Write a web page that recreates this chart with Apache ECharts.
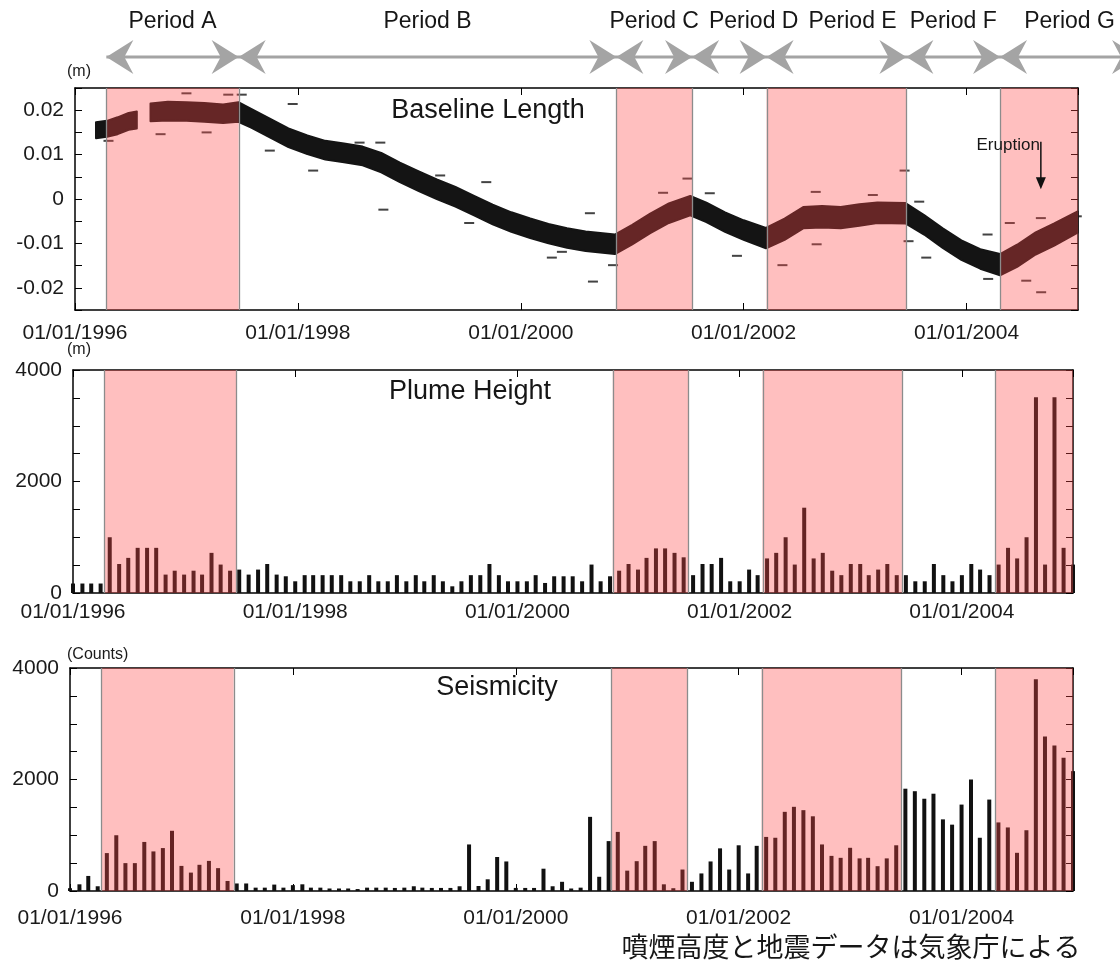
<!DOCTYPE html>
<html>
<head>
<meta charset="utf-8">
<script src="https://cdn.jsdelivr.net/npm/echarts@6/dist/echarts.min.js"></script>
<style>
  html, body { margin: 0; padding: 0; background: #fff; }
  #chart { width: 1120px; height: 962px; }
</style>
</head>
<body>
<div id="chart"></div>
<script>
// monthly bars sit on the 1st of each month, Jan 1996 .. Jan 2005
const months = [];
for (let y = 1996; y <= 2005; y++) {
  for (let m = 1; m <= 12; m++) {
    if (y === 2005 && m > 1) break;
    months.push(y + '-' + String(m).padStart(2, '0') + '-01');
  }
}

// plume height (m), one value per month
const plumeHeight = [
  170, 170, 170, 170, 1000, 520, 630, 810, 810, 810, 330, 400, 330, 400, 330, 720, 510, 400,
  420, 330, 420, 520, 330, 300, 210, 320, 320, 320, 320, 320, 210, 210, 320, 210, 210, 320,
  210, 320, 210, 320, 210, 120, 210, 320, 320, 520, 320, 210, 210, 210, 320,
  180, 300, 300, 300, 210, 510, 210, 300, 400, 520, 420, 630, 800, 800, 720, 640, 320, 520,
  520, 630, 210, 210, 420, 320, 620, 720, 1000, 510, 1530, 620, 720, 400, 320, 520, 520, 320,
  420, 520, 320, 320, 210, 210, 520, 320, 210, 320, 520, 420, 320, 510, 810, 620, 1000, 3510,
  510, 3510, 810, 510
];

// seismicity (counts per month)
const seismicity = [
  50, 120, 270, 85, 680, 1000, 500, 500, 880, 710, 770, 1080, 450, 330, 470, 540, 410, 180,
  135, 135, 60, 60, 115, 60, 105, 120, 60, 60, 45, 45, 45, 35, 60, 60, 60, 55, 60, 85, 60, 55,
  55, 55, 85, 835, 90, 210, 610, 530, 55, 55, 55, 400, 85, 165, 45,
  60, 1330, 255, 895, 1060, 365, 535, 810, 895, 120, 50, 385, 165, 315, 530, 765, 385, 820, 315,
  810, 970, 955, 1420, 1510, 1450, 1340, 835, 630, 595, 775, 585, 595, 445, 585, 820, 1835, 1790,
  1655, 1745, 1285, 1190, 1550, 2000, 955, 1640, 1230, 1140, 685, 1090, 3800, 2770, 2610, 2390, 2150
];

// baseline length band (m): null date = data gap
const baseDates = [
  '1996-03-10', '1996-04-15', '1996-05-20', '1996-06-25', '1996-07-22', null,
  '1996-09-05', '1996-11-01', '1997-01-01', '1997-03-01', '1997-05-01', '1997-06-20',
  '1997-08-01', '1997-10-01', '1997-12-01', '1998-02-01', '1998-04-01', '1998-06-01',
  '1998-08-01', '1998-10-01', '1998-12-01', '1999-02-01', '1999-04-01', '1999-06-01',
  '1999-08-01', '1999-10-01', '1999-12-01', '2000-02-01', '2000-04-01', '2000-06-01',
  '2000-08-01', '2000-11-05', '2001-01-01', '2001-03-01', '2001-05-01', '2001-07-10',
  '2001-09-01', '2001-11-01', '2002-01-01', '2002-03-15', '2002-05-15', '2002-07-15',
  '2002-09-15', '2002-11-15', '2003-01-15', '2003-03-15', '2003-06-15', '2003-08-15',
  '2003-10-15', '2003-12-15', '2004-02-15', '2004-04-20', '2004-06-15', '2004-08-15',
  '2004-10-15', '2004-12-31'
];
const baseHigh = [
  0.0173, 0.0176, 0.0184, 0.0194, 0.0197, null,
  0.0215, 0.0219, 0.0218, 0.0216, 0.0213, 0.0218,
  0.0203, 0.0181, 0.0159, 0.0143, 0.0131, 0.0125,
  0.0118, 0.0104, 0.0082, 0.0062, 0.0044, 0.0027,
  0.0007, -0.0013, -0.0030, -0.0044, -0.0056, -0.0066,
  -0.0073, -0.0080, -0.0058, -0.0033, -0.0010, 0.0007,
  -0.0008, -0.0030, -0.0048, -0.0065, -0.0044, -0.0018,
  -0.0016, -0.0018, -0.0012, -0.0008, -0.0009, -0.0036,
  -0.0066, -0.0093, -0.0113, -0.0124, -0.0103, -0.0075,
  -0.0055, -0.0028
];
const baseLow = [
  0.0137, 0.0140, 0.0146, 0.0156, 0.0159, null,
  0.0175, 0.0177, 0.0176, 0.0174, 0.0171, 0.0174,
  0.0161, 0.0139, 0.0117, 0.0101, 0.0089, 0.0083,
  0.0076, 0.0060, 0.0038, 0.0018, 0.0000, -0.0017,
  -0.0037, -0.0057, -0.0074, -0.0088, -0.0100, -0.0110,
  -0.0117, -0.0124, -0.0102, -0.0077, -0.0054, -0.0037,
  -0.0052, -0.0074, -0.0092, -0.0111, -0.0092, -0.0066,
  -0.0064, -0.0066, -0.0060, -0.0054, -0.0055, -0.0080,
  -0.0110, -0.0137, -0.0157, -0.0172, -0.0153, -0.0125,
  -0.0105, -0.0076
];

// scattered single measurements away from the band
const outlierDates = [
  '1996-04-20', '1996-10-08', '1997-01-01', '1997-03-08', '1997-05-18', '1997-07-01',
  '1997-10-01', '1997-12-15', '1998-02-20', '1998-07-22', '1998-09-28', '1998-10-08',
  '1999-04-12', '1999-07-16', '1999-09-10', '2000-04-12', '2000-05-15', '2000-08-15',
  '2000-08-25', '2000-10-30', '2001-04-12', '2001-07-01', '2001-09-12', '2001-12-10',
  '2002-05-08', '2002-08-25', '2002-08-28', '2003-02-28', '2003-06-12', '2003-06-25',
  '2003-07-30', '2003-08-22', '2004-03-10', '2004-03-12', '2004-05-22', '2004-07-15',
  '2004-09-01', '2004-09-02', '2004-12-28'
];
const outlierValues = [
  0.0131, 0.0146, 0.0238, 0.0150, 0.0235, 0.0235,
  0.0109, 0.0214, 0.0064, 0.0127, 0.0127, -0.0024,
  0.0053, -0.0054, 0.0038, -0.0132, -0.0119, -0.0032,
  -0.0186, -0.0149, 0.0014, 0.0046, 0.0013, -0.0128,
  -0.0149, 0.0016, -0.0102, 0.0009, 0.0064, -0.0095,
  -0.0006, -0.0132, -0.0080, -0.0180, -0.0054, -0.0184,
  -0.0043, -0.0210, -0.0039
];

const periodNames = ['Period A', 'Period B', 'Period C', 'Period D', 'Period E', 'Period F', 'Period G'];
const periodEdges = ['1996-04-13', '1997-06-21', '2000-11-10', '2001-07-16', '2002-03-17', '2003-06-18', '2004-04-20', '2005-07-20'];
const shadedIndex = [0, 2, 4, 6];
const eruptionDate = '2004-09-01';

const FONT = '"Liberation Sans", Arial, Helvetica, sans-serif';
const X_MIN = 1996, X_MAX = 2005;

function toYear(s) {
  const [y, m, d] = s.split('-').map(Number);
  const t0 = Date.UTC(y, 0, 1), t1 = Date.UTC(y + 1, 0, 1);
  return y + (Date.UTC(y, m - 1, d || 1) - t0) / (t1 - t0);
}

const grids = [
  { left: 75, top: 88, width: 1003, height: 222, outerBoundsMode: 'none' },
  { left: 73, top: 370, width: 1000, height: 223, outerBoundsMode: 'none' },
  { left: 70, top: 668, width: 1003, height: 223, outerBoundsMode: 'none' }
];
const xLabelMargin = [13, 9, 17];

const axisLine = { show: true, onZero: false, lineStyle: { color: '#000', width: 1.5 } };
const tick = { show: true, inside: true, length: 7, lineStyle: { color: '#000', width: 1 } };

function makeXAxes(g) {
  const common = {
    gridIndex: g, type: 'value', min: X_MIN, max: X_MAX, interval: 2,
    axisLine, axisTick: tick, splitLine: { show: false }
  };
  return [
    Object.assign({}, common, {
      position: 'bottom',
      axisLabel: {
        margin: xLabelMargin[g], fontSize: 21, color: '#1a1a1a', fontFamily: FONT,
        showMaxLabel: false,
        formatter: v => (v % 2 === 0 ? '01/01/' + v : '')
      }
    }),
    Object.assign({}, common, { position: 'top', axisLabel: { show: false } })
  ];
}

function makeYAxes(g, min, max, interval, labelEvery, name, nameGap, namePad, fmt) {
  const common = {
    gridIndex: g, type: 'value', min, max, interval,
    axisLine, axisTick: tick, splitLine: { show: false }
  };
  return [
    Object.assign({}, common, {
      position: 'left',
      name, nameLocation: 'end', nameGap,
      nameTextStyle: { align: 'left', fontSize: 16, color: '#1a1a1a', fontFamily: FONT, padding: [0, 0, 0, namePad] },
      axisLabel: {
        margin: 11, fontSize: 21, color: '#1a1a1a', fontFamily: FONT,
        formatter: v => {
          const k = Math.round(v / labelEvery * 1000) / 1000;
          return Number.isInteger(k) ? fmt(v) : '';
        }
      }
    }),
    Object.assign({}, common, { position: 'right', axisLabel: { show: false } })
  ];
}

// pink shading drawn above the data so dark marks turn maroon inside periods
function overlay() {
  return {
    silent: true, z: 10,
    itemStyle: { color: 'rgba(255,71,71,0.35)', borderWidth: 0 },
    data: shadedIndex.map(i => [
      { xAxis: toYear(periodEdges[i]) },
      { xAxis: Math.min(toYear(periodEdges[i + 1]), X_MAX) }
    ])
  };
}
function edgeLines() {
  const vals = [];
  shadedIndex.forEach(i => {
    vals.push(toYear(periodEdges[i]));
    const e = toYear(periodEdges[i + 1]);
    if (e < X_MAX) vals.push(e);
  });
  return {
    silent: true, z: 11, symbol: ['none', 'none'],
    label: { show: false },
    lineStyle: { color: '#8c8c8c', width: 1.3, type: 'solid' },
    data: vals.map(v => ({ xAxis: v }))
  };
}

const monthX = months.map(toYear);

const option = {
  animation: false,
  backgroundColor: '#fff',
  grid: grids,
  xAxis: [].concat(makeXAxes(0), makeXAxes(1), makeXAxes(2)),
  yAxis: [].concat(
    makeYAxes(0, -0.025, 0.025, 0.005, 0.01, '(m)', 8, -8, v => String(parseFloat(v.toFixed(3)))),
    makeYAxes(1, 0, 4000, 500, 2000, '(m)', 12, -6, v => String(Math.round(v))),
    makeYAxes(2, 0, 4000, 500, 2000, '(Counts)', 5, -3, v => String(Math.round(v)))
  ),
  series: [
    {
      type: 'custom', name: 'Baseline band', xAxisIndex: 0, yAxisIndex: 0,
      data: [[X_MIN, 0]],
      renderItem: (params, api) => {
        const children = [];
        let upper = [], lower = [];
        const flush = () => {
          if (upper.length > 1) {
            children.push({
              type: 'polygon',
              shape: { points: upper.concat(lower.slice().reverse()) },
              style: { fill: '#141414', stroke: '#141414', lineWidth: 2, lineJoin: 'round' }
            });
          }
          upper = []; lower = [];
        };
        baseDates.forEach((d, i) => {
          if (d === null) { flush(); return; }
          const x = toYear(d);
          upper.push(api.coord([x, baseHigh[i]]));
          lower.push(api.coord([x, baseLow[i]]));
        });
        flush();
        return { type: 'group', children };
      },
      markArea: overlay(),
      markLine: edgeLines()
    },
    {
      type: 'scatter', name: 'Baseline outliers', xAxisIndex: 0, yAxisIndex: 0,
      symbol: 'rect', symbolSize: [10, 2],
      itemStyle: { color: '#141414' },
      data: outlierDates.map((d, i) => [toYear(d), outlierValues[i]])
    },
    {
      type: 'bar', name: 'Plume Height', xAxisIndex: 2, yAxisIndex: 2,
      barWidth: 4, clip: false,
      itemStyle: { color: '#111' },
      data: monthX.map((x, i) => [x, plumeHeight[i]]),
      markArea: overlay(),
      markLine: edgeLines()
    },
    {
      type: 'bar', name: 'Seismicity', xAxisIndex: 4, yAxisIndex: 4,
      barWidth: 4, clip: false,
      itemStyle: { color: '#111' },
      data: monthX.map((x, i) => [x, seismicity[i]]),
      markArea: overlay(),
      markLine: edgeLines()
    }
  ]
};

const chart = echarts.init(document.getElementById('chart'));
chart.setOption(option);

// ---- annotations placed through the axis scales ----
function text(str, x, y, size, align) {
  return {
    type: 'text', z: 100, x, y,
    style: {
      text: str, fill: '#161616', font: size + 'px ' + FONT,
      textAlign: align, align: align, textVerticalAlign: 'middle', verticalAlign: 'middle'
    }
  };
}

const g = [];
const ARROW_Y = 57, arrowColor = '#a4a4a4';
const edgePx = periodEdges.map(d => chart.convertToPixel({ xAxisIndex: 0 }, toYear(d)));
g.push({
  type: 'line', z: 100,
  shape: { x1: edgePx[0], y1: ARROW_Y, x2: edgePx[edgePx.length - 1], y2: ARROW_Y },
  style: { stroke: arrowColor, lineWidth: 3 }
});
function head(tip, dir) {
  return {
    type: 'polygon', z: 100,
    shape: { points: [[tip, ARROW_Y], [tip - dir * 27, ARROW_Y - 17], [tip - dir * 18, ARROW_Y], [tip - dir * 27, ARROW_Y + 17]] },
    style: { fill: arrowColor }
  };
}
const measure = document.createElement('canvas').getContext('2d');
measure.font = '23px ' + FONT;
let prevRight = -Infinity;
periodNames.forEach((name, i) => {
  g.push(head(edgePx[i], -1), head(edgePx[i + 1], 1));
  const w = measure.measureText(name).width;
  let cx = (edgePx[i] + edgePx[i + 1]) / 2;
  if (cx - w / 2 < prevRight + 10) cx = prevRight + 10 + w / 2;
  prevRight = cx + w / 2;
  g.push(text(name, cx, 22, 23, 'center'));
});

// eruption arrow
const ex = chart.convertToPixel({ xAxisIndex: 0 }, toYear(eruptionDate));
const ey1 = chart.convertToPixel({ yAxisIndex: 0 }, 0.0122);
const ey2 = chart.convertToPixel({ yAxisIndex: 0 }, 0.0022);
g.push({ type: 'line', z: 100, shape: { x1: ex, y1: ey1 - 3, x2: ex, y2: ey2 - 8 }, style: { stroke: '#111', lineWidth: 1.5 } });
g.push({ type: 'polygon', z: 100, shape: { points: [[ex - 5, ey2 - 12], [ex + 5, ey2 - 12], [ex, ey2]] }, style: { fill: '#111' } });
g.push(text('Eruption', ex - 1, ey1, 17, 'right'));

// panel titles and source note
g.push(text('Baseline Length', 488, 111, 27, 'center'));
g.push(text('Plume Height', 470, 392, 27, 'center'));
g.push(text('Seismicity', 497, 688, 27, 'center'));
g.push({
  type: 'text', z: 100, x: 851, y: 947,
  style: {
    text: '噴煙高度と地震データは気象庁による', fill: '#161616',
    font: '27px "Noto Sans CJK JP", "Noto Sans CJK SC", sans-serif',
    textAlign: 'center', align: 'center', textVerticalAlign: 'middle', verticalAlign: 'middle'
  }
});

chart.setOption({ graphic: { elements: g } });
</script>
</body>
</html>
